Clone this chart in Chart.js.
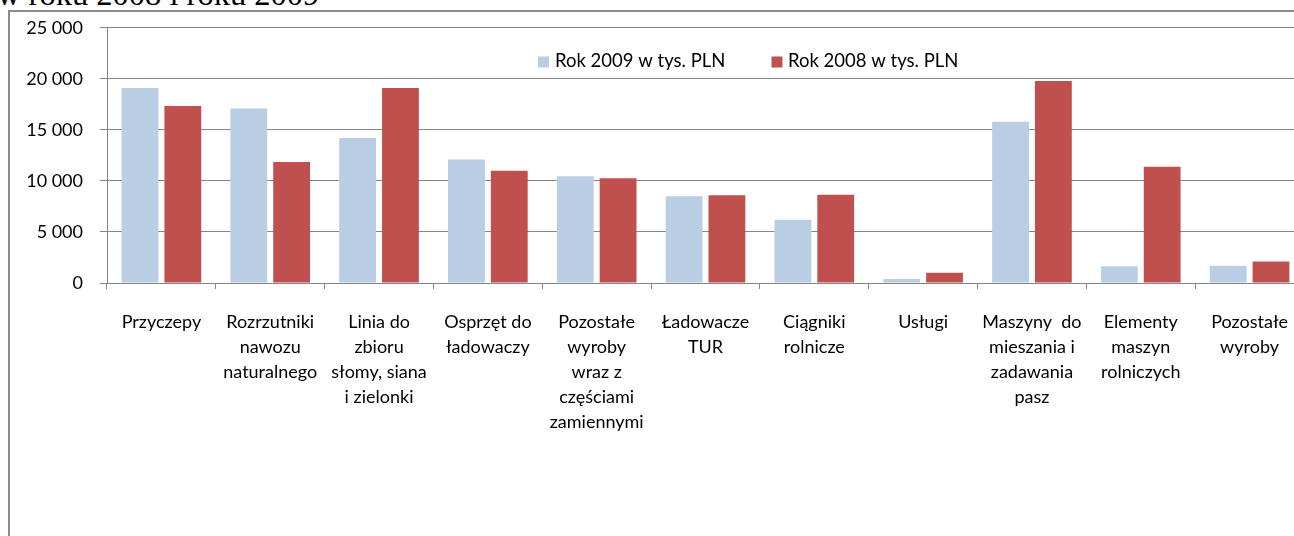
<!DOCTYPE html>
<html>
<head>
<meta charset="utf-8">
<script src="https://cdn.jsdelivr.net/npm/chart.js@4/dist/chart.umd.min.js"></script>
<style>
  html, body { margin:0; padding:0; background:#fff; overflow:hidden; width:1294px; height:536px; }
  #frame { position:absolute; left:8px; top:10px; width:1400px; height:600px; border-left:2px solid #8c8c8c; border-top:2px solid #8c8c8c; }
  #title { position:absolute; left:-3px; top:-22px; font-family:"Liberation Serif", serif; font-size:32.5px; line-height:33px; white-space:nowrap; color:#000; }
  #wrap { position:absolute; left:0; top:0; width:1330px; height:536px; }
</style>
</head>
<body>
<div id="title">w roku 2008 i roku 2009</div>
<div id="frame"></div>
<div id="wrap"><canvas id="c" width="1330" height="536"></canvas></div>
<script>
const categories = [
  ["Przyczepy"],
  ["Rozrzutniki", "nawozu", "naturalnego"],
  ["Linia do", "zbioru", "słomy, siana", "i zielonki"],
  ["Osprzęt do", "ładowaczy"],
  ["Pozostałe", "wyroby", "wraz z", "częściami", "zamiennymi"],
  ["Ładowacze", "TUR"],
  ["Ciągniki", "rolnicze"],
  ["Usługi"],
  ["Maszyny  do", "mieszania i", "zadawania", "pasz"],
  ["Elementy", "maszyn", "rolniczych"],
  ["Pozostałe", "wyroby"]
];
const seriesNames = ["Rok 2009 w tys. PLN", "Rok 2008 w tys. PLN"];
const values2009 = [19100, 17100, 14200, 12100, 10450, 8500, 6200, 400, 15800, 1650, 1700];
const values2008 = [17350, 11850, 19100, 11000, 10250, 8600, 8650, 1000, 19800, 11400, 2100];
const yTicks = [0, 5000, 10000, 15000, 20000, 25000];

const colors = ["#B9CDE5", "#C0504D"];
const FONT = "Lato, 'Open Sans', sans-serif";

const legendPlugin = {
  id: 'customLegend',
  afterDraw(chart) {
    const ctx = chart.ctx;
    const items = [{x: 538, tx: 555}, {x: 771.5, tx: 788}];
    ctx.save();
    ctx.font = "18.5px " + FONT;
    ctx.textBaseline = 'alphabetic';
    ctx.textAlign = 'left';
    chart.data.datasets.forEach((ds, i) => {
      ctx.fillStyle = ds.backgroundColor;
      ctx.fillRect(items[i].x, 56.5, 11, 11);
      ctx.fillStyle = '#000';
      ctx.fillText(ds.label, items[i].tx, 67);
    });
    ctx.restore();
  }
};

new Chart(document.getElementById('c'), {
  type: 'bar',
  data: {
    labels: categories,
    datasets: [
      { label: seriesNames[0], data: values2009, backgroundColor: colors[0], borderWidth: 0 },
      { label: seriesNames[1], data: values2008, backgroundColor: colors[1], borderWidth: 0 }
    ]
  },
  options: {
    responsive: false,
    devicePixelRatio: 1,
    animation: false,
    events: [],
    categoryPercentage: 0.787,
    barPercentage: 0.86,
    layout: { padding: { left: 0, right: 26, top: 27, bottom: 0 } },
    plugins: { legend: { display: false }, tooltip: { enabled: false }, title: { display: false } },
    scales: {
      x: {
        offset: true,
        grid: { offset: true, drawOnChartArea: false, drawTicks: true, tickLength: 6, color: '#868686', lineWidth: 1 },
        border: { display: true, color: '#868686', width: 1 },
        ticks: {
          autoSkip: false, maxRotation: 0, minRotation: 0, color: '#000', padding: 21,
          font: { family: FONT, size: 18, lineHeight: '25px' }
        },
        afterFit(scale) { scale.height = 536 - 283; }
      },
      y: {
        min: 0, max: 25000,
        afterBuildTicks(scale) { scale.ticks = yTicks.map(v => ({ value: v })); },
        grid: { drawTicks: true, tickLength: 7, color: '#868686', lineWidth: 1 },
        border: { display: true, color: '#868686', width: 1 },
        ticks: {
          color: '#000', padding: 17,
          font: { family: FONT, size: 18 },
          callback: v => String(v).replace(/\B(?=(\d{3})+(?!\d))/g, ' ')
        },
        afterFit(scale) { scale.width = 107; }
      }
    }
  },
  plugins: [legendPlugin]
});
</script>
</body>
</html>
